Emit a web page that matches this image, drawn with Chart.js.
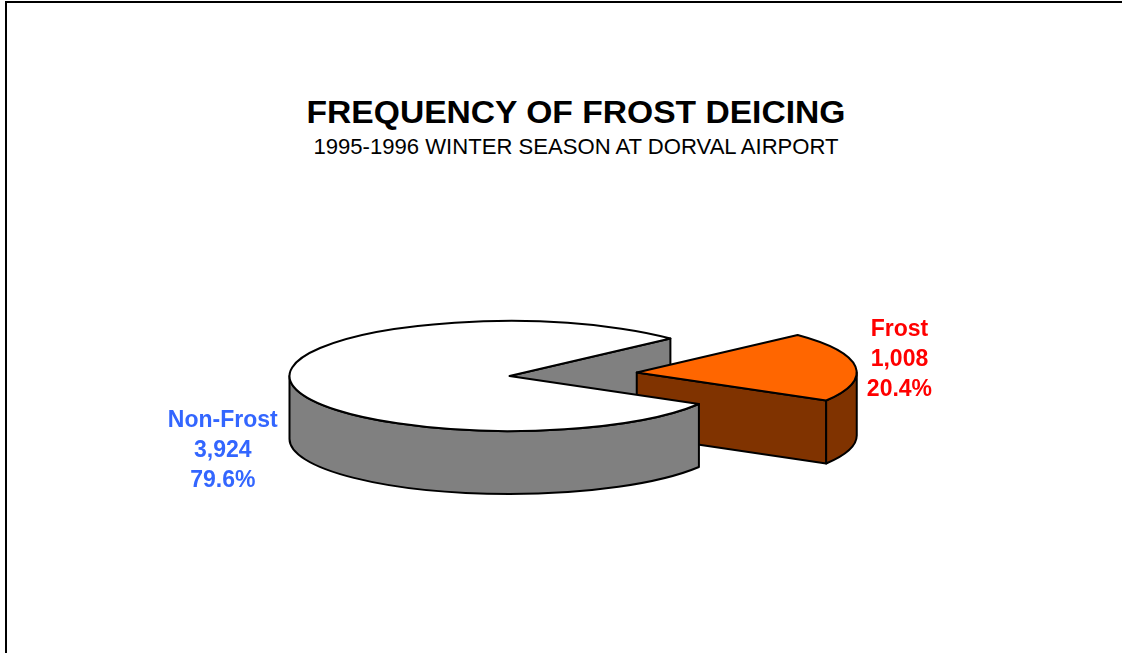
<!DOCTYPE html>
<html>
<head>
<meta charset="utf-8">
<script src="https://cdn.jsdelivr.net/npm/chart.js@4/dist/chart.umd.min.js"></script>
<style>
  html, body { margin: 0; padding: 0; background: #fff; overflow: hidden; }
  #wrap { position: relative; width: 1122px; height: 653px; overflow: hidden; }
  #frame { position: absolute; left: 5px; top: 1px; width: 1200px; height: 800px; border: 2px solid #000; }
  .ttl { position: absolute; left: 0; width: 1152px; text-align: center; white-space: nowrap; color: #000;
         font-family: 'Liberation Sans', Arial, sans-serif; }
  #title { top: 94px; font-size: 32px; line-height: 36px; font-weight: bold; transform: scaleX(1.05); }
  #subtitle { top: 133.5px; font-size: 22.1px; line-height: 26px; }
  #chart { position: absolute; left: 0; top: 0; }
</style>
</head>
<body>
<div id="wrap">
  <div id="frame"></div>
  <div id="title" class="ttl">FREQUENCY OF FROST DEICING</div>
  <div id="subtitle" class="ttl">1995-1996 WINTER SEASON AT DORVAL AIRPORT</div>
  <canvas id="chart" width="1122" height="653"></canvas>
</div>
<script>
const categories = ['Frost', 'Non-Frost'];
const counts = [1008, 3924];

const topColors = ['#FF6600', '#FFFFFF'];
const sideColors = ['#803300', '#808080'];
const labelColors = ['#FF0000', '#3366FF'];

const total = counts.reduce((a, b) => a + b, 0);
const pctText = (v) => (v / total * 100).toFixed(1) + '%';

// flattened 3-d pie: walls drawn here, top faces drawn by the arc elements themselves
const pie3d = {
  id: 'pie3d',
  slices(chart, opts) {
    const k = opts.tilt;
    return chart.getDatasetMeta(0).data.map((arc, i) => {
      const mid = (arc.startAngle + arc.endAngle) / 2;
      const ex = opts.explode[i] || 0;
      return {
        arc, i, mid,
        s: arc.startAngle, e: arc.endAngle, r: arc.outerRadius,
        ox: arc.x + Math.cos(mid) * ex,
        oy: arc.y + Math.sin(mid) * ex * k,
      };
    });
  },
  beforeDatasetsDraw(chart, args, opts) {
    const ctx = chart.ctx;
    const k = opts.tilt, depth = opts.depth;
    const slices = this.slices(chart, opts);
    const pt = (sl, a) => [sl.ox + Math.cos(a) * sl.r, sl.oy + Math.sin(a) * sl.r * k];

    ctx.save();
    ctx.lineWidth = opts.lineWidth;
    ctx.strokeStyle = '#000';
    ctx.lineJoin = 'round';

    // radial cut faces that look toward the viewer
    const cuts = [];
    slices.forEach((sl) => {
      if (Math.cos(sl.s) < -1e-6) cuts.push({ sl, a: sl.s });
      if (Math.cos(sl.e) > 1e-6) cuts.push({ sl, a: sl.e });
    });
    const cutY = (c) => c.sl.oy + Math.sin(c.a) * c.sl.r * k / 2;
    cuts.sort((p, q) => cutY(p) - cutY(q));
    cuts.forEach(({ sl, a }) => {
      const [x1, y1] = pt(sl, a);
      ctx.beginPath();
      ctx.moveTo(sl.ox, sl.oy);
      ctx.lineTo(x1, y1);
      ctx.lineTo(x1, y1 + depth);
      ctx.lineTo(sl.ox, sl.oy + depth);
      ctx.closePath();
      ctx.fillStyle = sideColors[sl.i];
      ctx.fill();
      ctx.stroke();
    });

    // outer rim, front half only
    slices.forEach((sl) => {
      for (let n = -2; n <= 2; n++) {
        const lo = Math.max(sl.s, 2 * Math.PI * n);
        const hi = Math.min(sl.e, 2 * Math.PI * n + Math.PI);
        if (hi <= lo) continue;
        ctx.beginPath();
        ctx.ellipse(sl.ox, sl.oy, sl.r, sl.r * k, 0, lo, hi, false);
        ctx.ellipse(sl.ox, sl.oy + depth, sl.r, sl.r * k, 0, hi, lo, true);
        ctx.closePath();
        ctx.fillStyle = sideColors[sl.i];
        ctx.fill();
        ctx.stroke();
      }
    });

    // top faces
    slices.forEach((sl) => {
      ctx.save();
      ctx.translate(sl.ox, sl.oy);
      ctx.scale(1, k);
      ctx.translate(-sl.arc.x, -sl.arc.y);
      sl.arc.draw(ctx);
      ctx.restore();
    });
    slices.forEach((sl) => {
      ctx.beginPath();
      ctx.moveTo(sl.ox, sl.oy);
      ctx.ellipse(sl.ox, sl.oy, sl.r, sl.r * k, 0, sl.s, sl.e, false);
      ctx.closePath();
      ctx.stroke();
    });
    ctx.restore();
    return false;
  },
  afterDraw(chart, args, opts) {
    const ctx = chart.ctx;
    const k = opts.tilt;
    ctx.save();
    ctx.font = opts.labelFont;
    ctx.textAlign = 'center';
    ctx.textBaseline = 'alphabetic';
    this.slices(chart, opts).forEach((sl) => {
      const ax = sl.ox + Math.cos(sl.mid) * sl.r;
      const ay = sl.oy + Math.sin(sl.mid) * sl.r * k;
      const [dx, dy] = opts.labelOffset[sl.i];
      const lines = [categories[sl.i], counts[sl.i].toLocaleString('en-US'), pctText(counts[sl.i])];
      ctx.fillStyle = labelColors[sl.i];
      lines.forEach((t, j) => ctx.fillText(t, ax + dx, ay + dy + j * opts.lineGap));
    });
    ctx.restore();
  },
};

new Chart(document.getElementById('chart'), {
  type: 'pie',
  data: {
    labels: categories,
    datasets: [{
      data: counts,
      backgroundColor: topColors,
      borderWidth: 0,
      radius: 220,
    }],
  },
  options: {
    responsive: false,
    devicePixelRatio: 1,
    animation: false,
    rotation: 47,
    layout: { padding: { left: 0, right: 103, top: 99, bottom: 0 } },
    plugins: {
      legend: { display: false },
      tooltip: { enabled: false },
      title: { display: false },
      pie3d: {
        tilt: 0.25,
        depth: 63,
        explode: [128, 0],
        lineWidth: 2,
        labelFont: "bold 23px 'Liberation Sans', Arial, sans-serif",
        labelOffset: [[44, -31], [-68, 45]],
        lineGap: 30,
      },
    },
  },
  plugins: [pie3d],
});
</script>
</body>
</html>
